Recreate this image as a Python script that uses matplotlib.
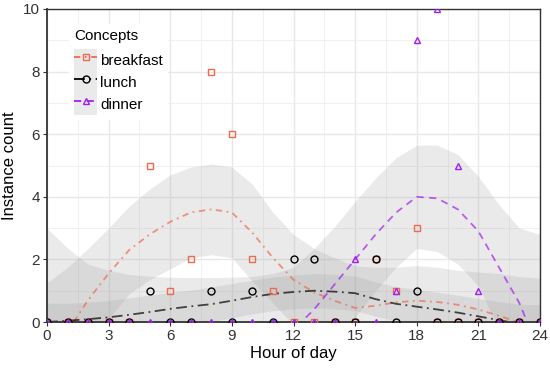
import matplotlib
matplotlib.use('Agg')
import matplotlib.pyplot as plt
from matplotlib.patches import Patch
from matplotlib.lines import Line2D
from matplotlib.legend_handler import HandlerTuple

plt.rcParams['font.family'] = ['Liberation Sans', 'DejaVu Sans']

hours = list(range(25))

# observed counts per hour
breakfast = [0, 0, 0, 0, 0, 5, 1, 2, 8, 6, 2, 1, 0, 0, 0, 0, 2, 1, 3, 0, 0, 0, 0, 0, 0]
lunch = [0, 0, 0, 0, 0, 1, 0, 0, 1, 0, 1, 0, 2, 2, 0, 0, 2, 0, 1, 0, 0, 0, 0, 0, 0]
dinner = [0, 0, 0, 0, 0, 0, 0, 0, 0, 0, 0, 0, 0, 0, 0, 2, 0, 1, 9, 10, 5, 1, 0, 0, 0]

# smoothed fits and confidence bands
b_fit = [-1.4, -0.3, 0.7, 1.55, 2.3, 2.8, 3.2, 3.5, 3.6, 3.5, 2.85, 2.05, 1.35,
         0.95, 0.68, 0.45, 0.52, 0.63, 0.68, 0.64, 0.55, 0.4, 0.2, -0.02, -0.4]
b_hi = [1.25, 1.75, 2.35, 3.0, 3.7, 4.25, 4.7, 4.95, 5.05, 4.95, 4.4, 3.5, 2.8,
        2.35, 2.05, 1.8, 1.75, 1.75, 1.8, 1.75, 1.65, 1.6, 1.55, 1.45, 1.4]
b_lo = [-4.05, -2.35, -0.95, 0.1, 0.9, 1.35, 1.7, 2.05, 2.15, 2.05, 1.3, 0.6, -0.1,
        -0.45, -0.7, -0.9, -0.7, -0.5, -0.45, -0.5, -0.55, -0.8, -1.15, -1.5, -2.2]

l_fit = [0.0, 0.04, 0.09, 0.15, 0.23, 0.32, 0.42, 0.5, 0.57, 0.68, 0.8, 0.9, 0.96,
         1.0, 0.97, 0.92, 0.73, 0.58, 0.49, 0.4, 0.3, 0.18, 0.06, -0.06, -0.2]
l_hi = [0.6, 0.6, 0.63, 0.69, 0.77, 0.86, 0.95, 1.02, 1.12, 1.23, 1.34, 1.44, 1.5,
        1.55, 1.52, 1.47, 1.28, 1.13, 1.04, 0.95, 0.86, 0.75, 0.65, 0.57, 0.55]
l_lo = [-0.6, -0.52, -0.45, -0.39, -0.31, -0.22, -0.11, -0.02, 0.02, 0.13, 0.26, 0.36, 0.42,
        0.45, 0.42, 0.37, 0.18, 0.03, -0.06, -0.15, -0.26, -0.39, -0.53, -0.69, -0.95]

d_fit = [-0.5, -0.6, -0.65, -0.65, -0.65, -0.62, -0.6, -0.6, -0.6, -0.58, -0.55, -0.45, -0.25,
         0.4, 1.2, 2.0, 2.8, 3.5, 4.0, 3.95, 3.6, 2.9, 1.75, 0.6, -1.0]
d_hi = [3.0, 2.36, 1.85, 1.65, 1.52, 1.46, 1.43, 1.42, 1.42, 1.43, 1.46, 1.55, 1.75,
        2.35, 3.05, 3.85, 4.6, 5.25, 5.65, 5.65, 5.35, 4.65, 3.75, 3.0, 2.8]
d_lo = [-4.0, -3.56, -3.15, -2.95, -2.8, -2.7, -2.6, -2.6, -2.6, -2.6, -2.55, -2.45, -2.25,
        -1.55, -0.65, 0.15, 1.0, 1.75, 2.35, 2.25, 1.85, 1.15, -0.25, -1.8, -4.8]

concepts = ['breakfast', 'lunch', 'dinner']
colors = ['#EE6A50', '#000000', '#A020F0']
markers = ['s', 'o', '^']
dash_styles = [(0, (3.5, 2.5, 1, 2.5)), (0, (6, 2.5, 1, 2.5)), (0, (4, 3))]
counts = [breakfast, lunch, dinner]
fits = [b_fit, l_fit, d_fit]
los = [b_lo, l_lo, d_lo]
his = [b_hi, l_hi, d_hi]

fig = plt.figure(figsize=(5.5, 3.68), dpi=100)
ax = fig.add_axes([47 / 550, 1 - 322 / 368, 493 / 550, 313 / 368])

for lo, hi in zip(los, his):
    ax.fill_between(hours, lo, hi, color='#999999', alpha=0.2, lw=0, zorder=1)

for fit, c, ls in zip(fits, colors, dash_styles):
    ax.plot(hours, fit, color=c, alpha=0.7, lw=1.3, linestyle=ls, zorder=2)

for y, c, m in zip(counts, colors, markers):
    ax.plot(hours, y, linestyle='none', marker=m, markersize=5,
            markerfacecolor='none', markeredgecolor=c, markeredgewidth=1.0, zorder=3)

ax.set_xlim(0, 24)
ax.set_ylim(0, 10)
ax.set_xticks(range(0, 25, 3))
ax.set_yticks(range(0, 11, 2))
ax.set_xticks([1.5 + 3 * i for i in range(8)], minor=True)
ax.set_yticks([1, 3, 5, 7, 9], minor=True)
ax.grid(which='major', color='#E8E8E8', lw=1.0, zorder=0)
ax.grid(which='minor', color='#EEEEEE', lw=0.6, zorder=0)
ax.set_axisbelow(True)
ax.tick_params(which='major', length=3, width=0.8, color='#333333',
               labelsize=11, labelcolor='#333333', pad=2)
ax.tick_params(which='minor', length=0)
for s in ax.spines.values():
    s.set_color('#333333')
    s.set_linewidth(1.0)
ax.spines['left'].set_linewidth(1.3)
ax.spines['bottom'].set_linewidth(1.3)

ax.set_xlabel('Hour of day', fontsize=12, labelpad=2)
ax.set_ylabel('Instance count', fontsize=12, labelpad=4)

handles = []
for c, m, ls in zip(colors, markers, dash_styles):
    key_bg = Patch(facecolor='#999999', alpha=0.2, edgecolor='none')
    key_line = Line2D([], [], color=c, linestyle=ls, lw=1.3, marker=m, markersize=5,
                      markerfacecolor='none', markeredgecolor=c, markeredgewidth=1.0)
    handles.append((key_bg, key_line))

leg = ax.legend(handles, concepts, title='Concepts', loc='upper left',
                bbox_to_anchor=(69 / 550, 1 - 24 / 368), bbox_transform=fig.transFigure,
                handler_map={tuple: HandlerTuple(ndivide=1, pad=0)},
                fontsize=11, title_fontsize=11, alignment='left',
                handlelength=1.5, handleheight=1.84, labelspacing=0, handletextpad=0.2,
                borderpad=0.35, borderaxespad=0, frameon=True, fancybox=False,
                edgecolor='none', facecolor='white', framealpha=1)
leg._legend_box.sep = 4  # gap between title and keys
leg.set_zorder(5)

plt.savefig('out.png', dpi=100)
